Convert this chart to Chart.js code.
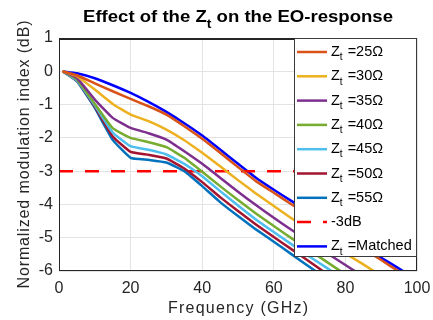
<!DOCTYPE html>
<html>
<head>
<meta charset="utf-8">
<script src="https://cdn.jsdelivr.net/npm/chart.js@4.4.0/dist/chart.umd.min.js"></script>
<style>
  html, body { margin: 0; padding: 0; background: #fff; }
</style>
</head>
<body>
<canvas id="chart" width="433" height="320"></canvas>
<script>
// frequency points (GHz)
const freq = [1, 5, 10, 15, 20, 25, 30, 35, 40, 45, 50, 55, 60, 65, 70, 75, 80, 85, 90, 95, 100];

// normalized modulation index (dB)
const z25 = [0, -0.12, -0.36, -0.6, -0.83, -1.05, -1.3, -1.65, -2.03, -2.45, -2.88, -3.3, -3.65, -4.0, -4.33, -4.67, -5.0, -5.33, -5.67, -6.02, -6.36];
const z30 = [0, -0.15, -0.55, -0.98, -1.3, -1.5, -1.75, -2.07, -2.45, -2.85, -3.27, -3.67, -4.05, -4.42, -4.77, -5.12, -5.47, -5.8, -6.15, -6.5, -6.85];
const z35 = [0, -0.2, -0.85, -1.4, -1.7, -1.86, -2.05, -2.4, -2.78, -3.2, -3.62, -4.02, -4.4, -4.77, -5.12, -5.47, -5.82, -6.17, -6.52, -6.87, -7.2];
const z40 = [0, -0.24, -0.98, -1.71, -2.0, -2.13, -2.28, -2.6, -3.02, -3.45, -3.87, -4.27, -4.65, -5.02, -5.38, -5.74, -6.1, -6.45, -6.8, -7.15, -7.5];
const z45 = [0, -0.27, -1.02, -1.84, -2.25, -2.36, -2.5, -2.78, -3.15, -3.6, -4.03, -4.45, -4.83, -5.2, -5.57, -5.92, -6.3, -6.65, -7.0, -7.35, -7.7];
const z50 = [0, -0.28, -1.06, -1.96, -2.42, -2.51, -2.62, -2.92, -3.33, -3.78, -4.2, -4.6, -4.98, -5.35, -5.72, -6.1, -6.45, -6.8, -7.15, -7.5, -7.85];
const z55 = [0, -0.3, -1.1, -2.06, -2.6, -2.66, -2.74, -3.0, -3.45, -3.93, -4.35, -4.75, -5.12, -5.5, -5.88, -6.25, -6.6, -6.95, -7.3, -7.65, -8.0];
const matched = [0, -0.06, -0.21, -0.42, -0.65, -0.92, -1.22, -1.56, -1.93, -2.35, -2.78, -3.2, -3.56, -3.9, -4.24, -4.58, -4.92, -5.26, -5.6, -5.93, -6.27];

const cutoff = -3;
const cutoffSpan = [0, 100];

const names = ['=25Ω', '=30Ω', '=35Ω', '=40Ω', '=45Ω', '=50Ω', '=55Ω'];
const colors = ['#D95319', '#EDB120', '#7E2F8E', '#77AC30', '#4DBEEE', '#A2142F', '#0072BD'];
const series = [z25, z30, z35, z40, z45, z50, z55];

const FONT = "'Liberation Sans', Arial, Helvetica, sans-serif";

const toPoints = (ys) => ys.map((y, i) => ({ x: freq[i], y: y }));

const datasets = series.map((ys, i) => ({
  label: names[i],
  zt: true,
  data: toPoints(ys),
  borderColor: colors[i],
  borderWidth: 2.5,
  pointRadius: 0,
  tension: 0.12,
  fill: false
}));

datasets.push({
  label: '-3dB',
  zt: false,
  data: cutoffSpan.map(x => ({ x: x, y: cutoff })),
  borderColor: '#FF0000',
  borderWidth: 2.5,
  borderDash: [14, 12],
  pointRadius: 0,
  fill: false
});

datasets.push({
  label: '=Matched',
  zt: true,
  data: toPoints(matched),
  borderColor: '#0000FF',
  borderWidth: 2.5,
  pointRadius: 0,
  tension: 0.12,
  fill: false
});

// draws "Z" with a subscript "t" and returns the x where the text ends
function drawZt(ctx, x, y, size, bold) {
  const w = bold ? 'bold ' : '';
  ctx.font = w + size + 'px ' + FONT;
  ctx.fillText('Z', x, y);
  x += ctx.measureText('Z').width;
  ctx.font = w + Math.round(size * 0.72) + 'px ' + FONT;
  ctx.fillText('t', x, y + size * 0.38);
  return x + ctx.measureText('t').width;
}

// text spread a little to a given width, as in the figure
function spreadText(ctx, text, cx, cy, width) {
  ctx.letterSpacing = '0px';
  const natural = ctx.measureText(text).width;
  const sp = Math.max(0, (width - natural) / (text.length - 1));
  ctx.letterSpacing = sp + 'px';
  ctx.textAlign = 'left';
  ctx.fillText(text, cx - width / 2, cy);
  ctx.letterSpacing = '0px';
}

const decor = {
  id: 'decor',
  beforeDraw(c) {
    const ctx = c.ctx;
    ctx.save();
    ctx.fillStyle = '#fff';
    ctx.fillRect(0, 0, c.width, c.height);
    ctx.restore();
  },
  afterDatasetsDraw(c) {
    const ctx = c.ctx, a = c.chartArea;
    ctx.save();

    // axes box
    ctx.strokeStyle = '#262626';
    ctx.lineWidth = 1;
    ctx.strokeRect(a.left + 0.5, a.top + 0.5, a.right - a.left - 1, a.bottom - a.top - 1);
    ctx.lineWidth = 2;
    ctx.beginPath();
    ctx.moveTo(a.left, a.top + 1);
    ctx.lineTo(a.right, a.top + 1);
    ctx.stroke();

    // legend box in the upper right corner
    const lw = 123, lh = 219;
    const lx = a.right - lw, ly = a.top;
    ctx.fillStyle = '#fff';
    ctx.fillRect(lx, ly, lw, lh);
    ctx.strokeStyle = '#3a3a3a';
    ctx.lineWidth = 1;
    ctx.strokeRect(lx + 0.5, ly + 0.5, lw - 1, lh - 1);

    ctx.textBaseline = 'middle';
    ctx.textAlign = 'left';
    c.data.datasets.forEach((ds, i) => {
      const y = ly + 14 + i * 24.3;
      ctx.beginPath();
      ctx.strokeStyle = ds.borderColor;
      ctx.lineWidth = 2.5;
      ctx.setLineDash(ds.borderDash || []);
      ctx.moveTo(lx + 3, y);
      ctx.lineTo(lx + 33, y);
      ctx.stroke();
      ctx.setLineDash([]);

      ctx.fillStyle = '#000';
      let tx = lx + 37;
      if (ds.zt) {
        tx = drawZt(ctx, tx, y, 14.5, false) + 5;
      }
      ctx.font = '14.5px ' + FONT;
      ctx.fillText(ds.label, tx, y);
    });
    ctx.restore();
  },
  afterDraw(c) {
    const ctx = c.ctx, a = c.chartArea;
    const mid = (a.left + a.right) / 2;
    ctx.save();

    // axis titles
    ctx.fillStyle = '#262626';
    ctx.textBaseline = 'middle';
    ctx.font = '16px ' + FONT;
    spreadText(ctx, 'Frequency (GHz)', mid, 309, 140);
    ctx.save();
    ctx.translate(25, (a.top + a.bottom) / 2);
    ctx.rotate(-Math.PI / 2);
    spreadText(ctx, 'Normalized modulation index (dB)', 0, 0, 268);
    ctx.restore();

    // title with subscript, stretched like the figure
    ctx.fillStyle = '#000';
    ctx.textBaseline = 'alphabetic';
    ctx.textAlign = 'left';
    const size = 16;
    ctx.font = 'bold ' + size + 'px ' + FONT;
    const p0 = 'Effect of the ', p2 = ' on the EO-response';
    const w0 = ctx.measureText(p0 + 'Z').width, w2 = ctx.measureText(p2).width;
    ctx.font = 'bold ' + Math.round(size * 0.72) + 'px ' + FONT;
    const wt = ctx.measureText('t').width;
    const total = w0 + wt + w2;
    const target = 310;
    ctx.translate(mid - target / 2, 22);
    ctx.scale(target / total, 1);
    let x = 0;
    ctx.font = 'bold ' + size + 'px ' + FONT;
    ctx.fillText(p0, x, 0);
    x += ctx.measureText(p0).width;
    x = drawZt(ctx, x, 0, size, true);
    ctx.font = 'bold ' + size + 'px ' + FONT;
    ctx.fillText(p2, x, 0);
    ctx.restore();
  }
};

const ctx = document.getElementById('chart');

new Chart(ctx, {
  type: 'line',
  data: { datasets: datasets },
  options: {
    responsive: false,
    animation: false,
    devicePixelRatio: 1,
    layout: { padding: { top: 38, right: 16, left: 0, bottom: 0 } },
    plugins: {
      legend: { display: false },
      title: { display: false },
      tooltip: { enabled: false }
    },
    scales: {
      x: {
        type: 'linear',
        min: 0,
        max: 100,
        afterFit: (s) => { s.height = 49; s.paddingLeft = 0; s.paddingRight = 0; },
        ticks: { stepSize: 20, color: '#262626', padding: 8, font: { family: FONT, size: 16 } },
        grid: { color: '#e3e3e3', drawTicks: false },
        border: { display: false }
      },
      y: {
        min: -6,
        max: 1,
        afterFit: (s) => { s.width = 59; },
        ticks: { stepSize: 1, color: '#262626', padding: 6, font: { family: FONT, size: 16 } },
        grid: { color: '#e3e3e3', drawTicks: false },
        border: { display: false }
      }
    }
  },
  plugins: [decor]
});
</script>
</body>
</html>
